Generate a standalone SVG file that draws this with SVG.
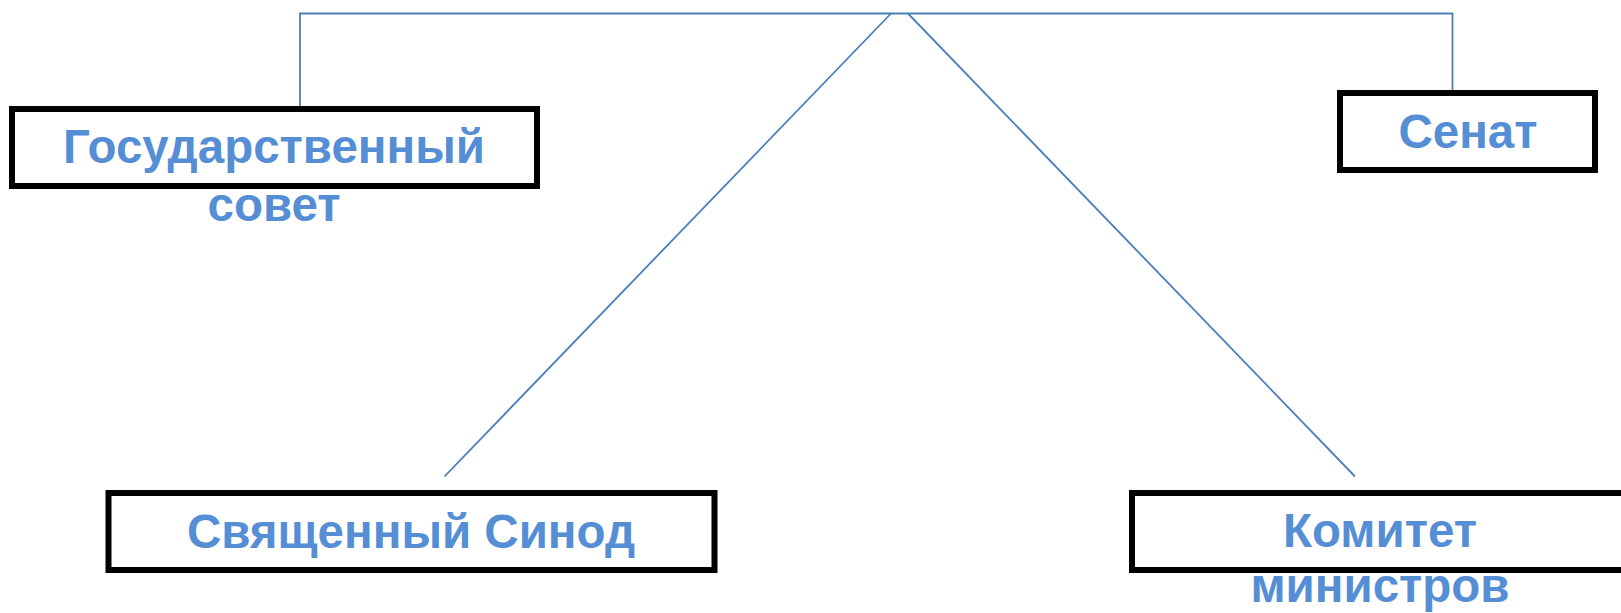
<svg xmlns="http://www.w3.org/2000/svg" width="1621" height="613" viewBox="0 0 1621 613">
<style>
.box{fill:#fff;stroke:#000;stroke-width:6}
.lbl{font-family:"Liberation Sans",Arial,sans-serif;font-weight:bold;font-size:47.5px;fill:#558ED5;text-anchor:middle}
.con{fill:none;stroke:#4A7EBB;stroke-width:1.8}
</style>
<rect width="1621" height="613" fill="#fff"/>
<g id="connectors">
<polyline class="con" points="300,106 300,13.5 1452.5,13.5 1452.5,90"/>
<line class="con" x1="891" y1="13.5" x2="444.5" y2="476.5"/>
<line class="con" x1="908" y1="13.5" x2="1355" y2="476.5"/>
</g>
<g id="gos-sovet">
<rect class="box" x="12" y="109" width="525" height="77"/>
<text class="lbl" x="274" y="163">Государственный</text>
<text class="lbl" x="274" y="221">совет</text>
</g>
<g id="senat">
<rect class="box" x="1340" y="93" width="255" height="77"/>
<text class="lbl" x="1468" y="148">Сенат</text>
</g>
<g id="sinod">
<rect class="box" x="108.5" y="493" width="606" height="77"/>
<text class="lbl" x="411" y="548">Священный Синод</text>
</g>
<g id="komitet">
<rect class="box" x="1132" y="493" width="600" height="77"/>
<text class="lbl" x="1380" y="547">Комитет</text>
<text class="lbl" x="1380" y="602">министров</text>
</g>
</svg>
